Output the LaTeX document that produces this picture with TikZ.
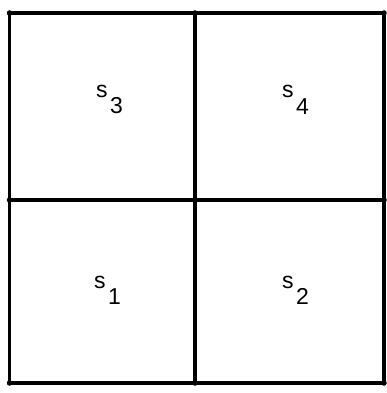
\documentclass[tikz,border=0pt]{standalone}
\usepackage{fontspec}
\setmainfont{Liberation Sans}
\usetikzlibrary{positioning}

\begin{document}
\begin{tikzpicture}[
  x=1pt, y=-1pt,
  bordo/.style={draw=black, line width=3.3pt, line cap=round, line join=round},
  nodo/.style={circle, fill=black, inner sep=0pt, minimum size=5.5pt},
  stato/.style={font=\fontsize{23}{27}\selectfont, inner sep=0pt, anchor=base west}
]
\useasboundingbox (0,0) rectangle (387,393);

% punti della griglia
\node[nodo] (ao) at (9.5,13)  {};
\node[nodo] (am) at (195,13)  {};
\node[nodo] (ae) at (384,13)  {};
\node[nodo] (mo) at (9.5,200) {};
\node[nodo] (mm) at (195,200) {};
\node[nodo] (me) at (384,200) {};
\node[nodo] (bo) at (9.5,383) {};
\node[nodo] (bm) at (195,383) {};
\node[nodo] (be) at (384,383) {};

% bordo esterno
\draw[bordo] (ao.center) -- (ae.center) -- (be.center) -- (bo.center) -- cycle;
% divisioni interne
\draw[bordo] (am.center) -- (bm.center);
\draw[bordo] (mo.center) -- (me.center);

% etichette delle celle
\node[stato] (s3) at (96,98)  {s\kern2.5pt\raisebox{-16pt}{3}};
\node[stato] (s4) at (282,98) {s\kern2.5pt\raisebox{-17pt}{4}};
\node[stato] (s1) at (94,288) {s\kern2.5pt\raisebox{-16pt}{1}};
\node[stato] (s2) at (282,288) {s\kern2.5pt\raisebox{-16pt}{2}};

\end{tikzpicture}
\end{document}
